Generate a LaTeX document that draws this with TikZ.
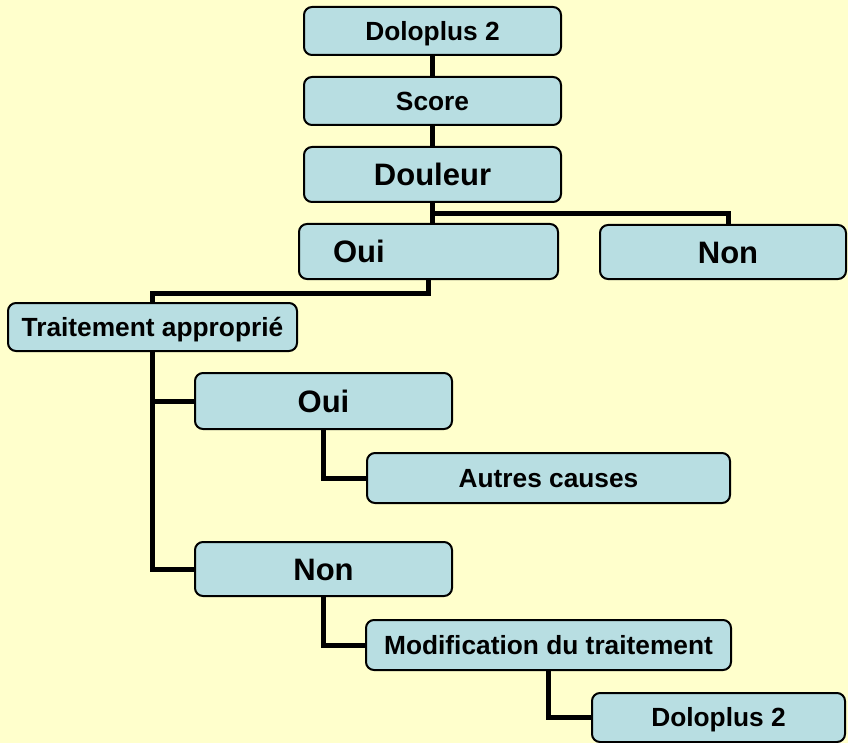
\documentclass[tikz,border=0pt]{standalone}
\usepackage{fontspec}
\setmainfont{Liberation Sans}
\definecolor{bgyellow}{HTML}{FFFFCC}
\definecolor{boxfill}{HTML}{B8DEE2}
\begin{document}
\begin{tikzpicture}[x=1pt,y=-1pt,
  box/.style={draw=black, line width=2pt, fill=boxfill, rounded corners=8pt,
    inner sep=0pt, text height=18.7pt, text depth=0pt, font=\bfseries\fontsize{26.3}{30}\selectfont},
  bigbox/.style={box, text height=22.2pt, font=\bfseries\fontsize{31}{36}\selectfont},
  link/.style={line width=5pt, black}]
\fill[bgyellow] (0,0) rectangle (848,743);
\useasboundingbox (0,0) rectangle (848,743);

\node[box, minimum width=257, minimum height=48] (d1) at (432.5,31) {Doloplus 2};
\node[box, minimum width=257, minimum height=48] (score) at (432.5,101) {Score};
\node[bigbox, minimum width=257, minimum height=55] (douleur) at (432.5,174.5) {Douleur};
\node[bigbox, minimum width=259, minimum height=55, text width=191, align=left] (oui1) at (428.5,251.5) {Oui};
\node[bigbox, minimum width=246, minimum height=54, text width=236, align=center] (non1) at (723,252) {\hspace*{10pt}Non};
\node[box, minimum width=289, minimum height=48] (trait) at (152.5,327) {Traitement approprié};
\node[bigbox, minimum width=257, minimum height=56] (oui2) at (323.5,401) {Oui};
\node[box, minimum width=363, minimum height=50] (autres) at (548.5,478) {Autres causes};
\node[bigbox, minimum width=257, minimum height=54] (non2) at (323.5,569) {Non};
\node[box, minimum width=365, minimum height=50] (modif) at (548.5,645) {Modification du traitement};
\node[box, minimum width=253, minimum height=49] (dolo2) at (718.5,717.5) {Doloplus 2};

\draw[link] (d1.south) -- (score.north);
\draw[link] (score.south) -- (douleur.north);
\draw[link] (douleur.south) -- ++(0,11) coordinate (j1) -| ([xshift=5pt]non1.north);
\draw[link] (j1) -- (j1 |- oui1.north);
\draw[link] (oui1.south) -- ++(0,13) -| (trait.north);
\draw[link] (trait.south) |- (non2.west);
\draw[link] (trait.south |- oui2.west) -- (oui2.west);
\draw[link] (oui2.south) |- (autres.west);
\draw[link] (non2.south) |- (modif.west);
\draw[link] (modif.south) |- (dolo2.west);
\end{tikzpicture}
\end{document}
